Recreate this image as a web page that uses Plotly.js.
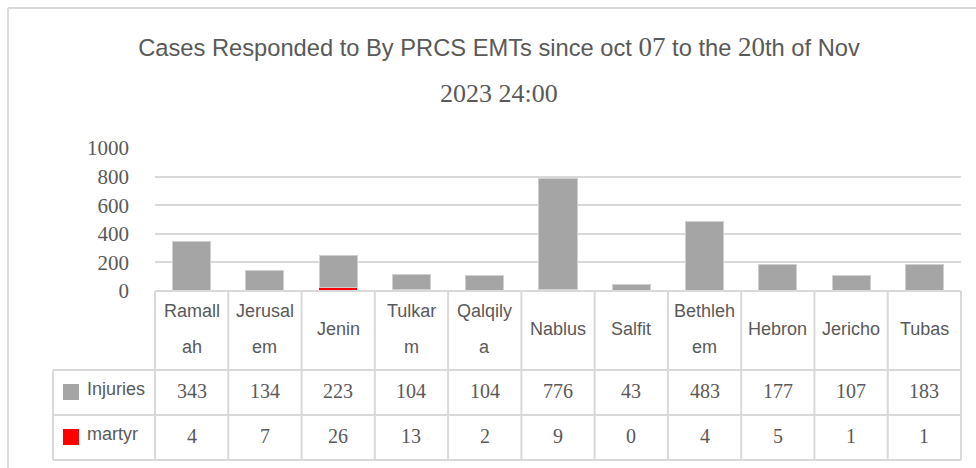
<!DOCTYPE html>
<html>
<head>
<meta charset="utf-8">
<script src="https://cdn.plot.ly/plotly-3.0.1.min.js"></script>
<style>html,body{margin:0;padding:0;background:#fff;}#chart{width:976px;height:468px;}</style>
</head>
<body>
<div id="chart"></div>
<script>
// ---- data ----
const categories = ["Ramallah","Jerusalem","Jenin","Tulkarm","Qalqilya","Nablus","Salfit","Bethlehem","Hebron","Jericho","Tubas"];
const categoryLines = [["Ramall","ah"],["Jerusal","em"],["Jenin"],["Tulkar","m"],["Qalqily","a"],["Nablus"],["Salfit"],["Bethleh","em"],["Hebron"],["Jericho"],["Tubas"]];
const injuries = [343,134,223,104,104,776,43,483,177,107,183];
const martyr = [4,7,26,13,2,9,0,4,5,1,1];
const seriesNames = ["Injuries","martyr"];
const yTicks = [0,200,400,600,800,1000];

// ---- geometry helpers (pixels -> paper) ----
const W = 976, H = 468;
const mL = 155, mR = 15, mT = 148, mB = 177;
const plotW = W - mL - mR, plotH = H - mT - mB;
const px2x = p => (p - mL) / plotW;
const py2y = p => (H - mB - p) / plotH;

const grey = "#595959", border = "#d9d9d9";
const sans = "Liberation Sans, Arial, sans-serif";
const serif = "Liberation Serif, Times New Roman, serif";
const n = categories.length;
const colX = i => i / n;

const yHeadBot = py2y(370), yInjBot = py2y(415), yMarBot = py2y(460);
const xLeft = px2x(53);

const shapes = [];
const line = (x0,y0,x1,y1,c,w) => shapes.push({type:"line",xref:"paper",yref:"paper",x0,y0,x1,y1,line:{color:c||border,width:w||2}});
// table lines
for (let i = 0; i <= n; i++) line(colX(i), 0, colX(i), yMarBot);
line(xLeft, yHeadBot, xLeft, yMarBot);
line(0, 0, 1, 0);
line(xLeft, yHeadBot, 1, yHeadBot);
line(xLeft, yInjBot, 1, yInjBot);
line(xLeft, yMarBot, 1, yMarBot);
// outer chart border
line(px2x(8), py2y(8), px2x(8), py2y(480));
line(px2x(8), py2y(8), px2x(990), py2y(8));
// legend swatches
shapes.push({type:"rect",xref:"paper",yref:"paper",x0:px2x(63),x1:px2x(79),y0:py2y(384),y1:py2y(400),fillcolor:"#a5a5a5",line:{width:0}});
shapes.push({type:"rect",xref:"paper",yref:"paper",x0:px2x(63),x1:px2x(79),y0:py2y(429),y1:py2y(445),fillcolor:"#ff0000",line:{width:0}});

const annotations = [];
const ann = (text,x,y,font,xanchor) => annotations.push({text,x,y,xref:"paper",yref:"paper",showarrow:false,xanchor:xanchor||"center",yanchor:"middle",font});
const sansF = {family:sans,size:18,color:grey};
const serifF = {family:serif,size:20,color:grey};
categoryLines.forEach((ls,i) => {
  const cx = colX(i + 0.5);
  if (ls.length === 1) ann(ls[0], cx, py2y(329), sansF);
  else { ann(ls[0], cx, py2y(311), sansF); ann(ls[1], cx, py2y(347), sansF); }
  ann(String(injuries[i]), cx, py2y(391), serifF);
  ann(String(martyr[i]), cx, py2y(436), serifF);
});
ann(seriesNames[0], px2x(85), py2y(389), sansF, "left");
ann(seriesNames[1], px2x(85), py2y(434), sansF, "left");
// title second line
ann("2023 24:00", px2x(499), py2y(94), {family:serif,size:26,color:grey});

const xIdx = categories.map((c,i)=>i);
const traces = [
  {type:"bar", name:seriesNames[1], x:xIdx, y:martyr, marker:{color:"#ff0000"}, width:0.52, hoverinfo:"skip"},
  {type:"bar", name:seriesNames[0], x:xIdx, y:injuries, marker:{color:"#a5a5a5", line:{color:"#d0d0d0",width:1}}, width:0.52, hoverinfo:"skip"}
];

const sd = t => '<span style="font-family:Liberation Serif;font-size:27px">' + t + '</span>';
const layout = {
  width: W, height: H,
  margin: {l:mL, r:mR, t:mT, b:mB, pad:0},
  paper_bgcolor:"#fff", plot_bgcolor:"#fff",
  barmode:"stack",
  showlegend:false,
  title:{
    text:'Cases Responded to By PRCS EMTs since oct ' + sd('07') + ' to the ' + sd('20') + 'th of Nov',
    font:{family:sans,size:23.7,color:grey},
    xref:"container", x:499/W, xanchor:"center",
    yref:"container", y:1-48/H, yanchor:"middle"
  },
  xaxis:{range:[-0.5,n-0.5], showticklabels:false, showgrid:false, zeroline:false, showline:false, ticks:"", fixedrange:true},
  yaxis:{range:[0,1000], tickvals:yTicks, ticktext:yTicks.map(String), showgrid:true, gridcolor:border, gridwidth:2,
         zeroline:false, showline:false, ticks:"", ticklabelstandoff:25,
         tickfont:{family:serif,size:21,color:grey}, fixedrange:true},
  shapes, annotations
};

Plotly.newPlot("chart", traces, layout, {staticPlot:true, displayModeBar:false});
</script>
</body>
</html>
